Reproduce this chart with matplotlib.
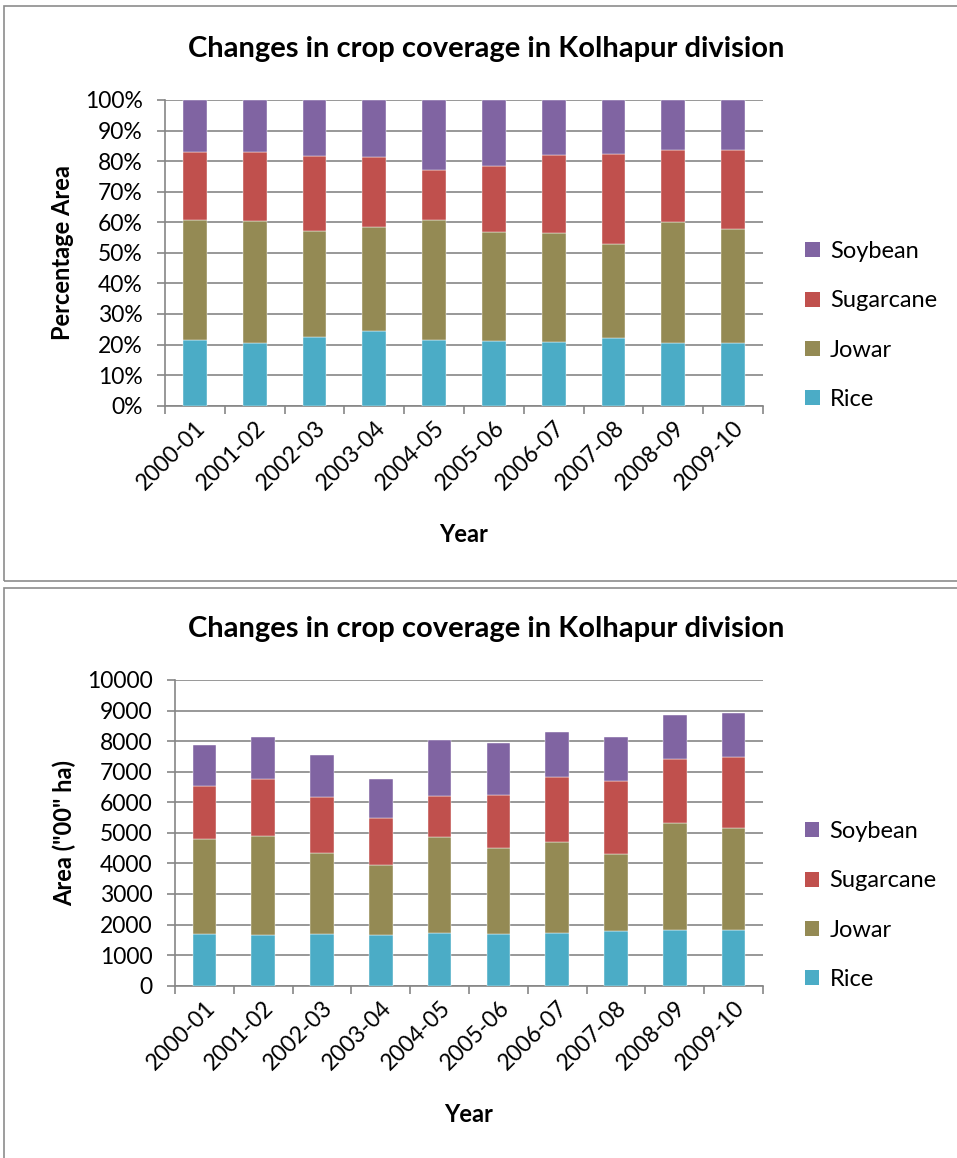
import numpy as np
import matplotlib
matplotlib.use("Agg")
import matplotlib.pyplot as plt
from matplotlib.patches import Rectangle, Patch
from matplotlib.ticker import FixedLocator, PercentFormatter

plt.rcParams['font.family'] = ['Lato', 'DejaVu Sans']

# area in "00" ha
years = ["2000-01", "2001-02", "2002-03", "2003-04", "2004-05",
         "2005-06", "2006-07", "2007-08", "2008-09", "2009-10"]
rice = [1680, 1670, 1690, 1660, 1720, 1690, 1720, 1800, 1820, 1820]
jowar = [3110, 3230, 2640, 2290, 3160, 2830, 2970, 2500, 3500, 3340]
sugarcane = [1730, 1860, 1840, 1550, 1320, 1710, 2130, 2400, 2090, 2310]
soybean = [1350, 1370, 1390, 1250, 1830, 1720, 1480, 1430, 1440, 1460]

crops = ["Rice", "Jowar", "Sugarcane", "Soybean"]
colors = ["#4BACC6", "#948A54", "#C0504D", "#8064A2"]
title = "Changes in crop coverage in Kolhapur division"

W, H = 957, 1158
fig = plt.figure(figsize=(W / 100, H / 100), dpi=100)

# panel frames
for y0, y1 in [(6, 581), (588, 1165)]:
    fig.patches.append(Rectangle((4 / W, 1 - y1 / H), (W + 10) / W, (y1 - y0) / H,
                                 transform=fig.transFigure, fill=False,
                                 edgecolor="#8c8c8c", lw=1.2))


def draw(ax, series, ylabel, ticks, left, width, fmt=None):
    x = np.arange(len(years))
    bottom = np.zeros(len(years))
    for vals, c in zip(series, colors):
        ax.bar(x, vals, 0.4, bottom=bottom, color=c, zorder=3,
               edgecolor="white", linewidth=0.3)
        bottom = bottom + np.array(vals)
    ax.set_xlim(-0.5, len(years) - 0.5)
    ax.set_ylim(ticks[0], ticks[-1])
    ax.set_yticks(ticks)
    if fmt is not None:
        ax.yaxis.set_major_formatter(fmt)
    ax.grid(axis="y", color="#868686", lw=1.2, zorder=0)
    ax.set_xticks(x)
    ax.set_xticklabels(years, rotation=45, ha="right", rotation_mode="anchor",
                       fontsize=16.5)
    ax.xaxis.set_minor_locator(FixedLocator(np.arange(-0.5, len(years), 1)))
    ax.tick_params(axis="x", which="major", length=0, pad=8)
    ax.tick_params(axis="x", which="minor", length=6, color="#868686", width=1.2)
    ax.tick_params(axis="y", length=6, color="#868686", width=1.2,
                   labelsize=16.5, pad=10)
    for s in ["top", "right"]:
        ax.spines[s].set_visible(False)
    for s in ["left", "bottom"]:
        ax.spines[s].set_color("#868686")
        ax.spines[s].set_linewidth(1.2)
    ax.set_xlabel("Year", fontsize=17, fontweight="bold", labelpad=21)
    ax.set_ylabel(ylabel, fontsize=17, fontweight="bold", labelpad=8)
    # title is centred on the chart area, not the plot area
    ax.set_title(title, fontsize=21, fontweight="bold", pad=31,
                 x=(486 - left) / width)
    handles = [Patch(facecolor=c, label=l) for c, l in zip(colors, crops)][::-1]
    ax.legend(handles=handles, loc="center left", bbox_to_anchor=(1.055, 0.262),
              frameon=False, fontsize=17, handlelength=0.6,
              handleheight=0.6, labelspacing=1.2, handletextpad=0.45,
              borderaxespad=0)


# top: percentage chart
data = np.array([rice, jowar, sugarcane, soybean], dtype=float)
pct = data / data.sum(axis=0) * 100
ax1 = fig.add_axes([165 / W, 1 - 405.7 / H, 598 / W, 305.7 / H])
draw(ax1, pct, "Percentage Area", np.arange(0, 101, 10), 165, 598,
     PercentFormatter(decimals=0))

# bottom: absolute area
ax2 = fig.add_axes([175 / W, 1 - 985.7 / H, 588 / W, 305.7 / H])
draw(ax2, data, 'Area ("00" ha)', np.arange(0, 10001, 1000), 175, 588)

fig.savefig("out.png", dpi=100)
